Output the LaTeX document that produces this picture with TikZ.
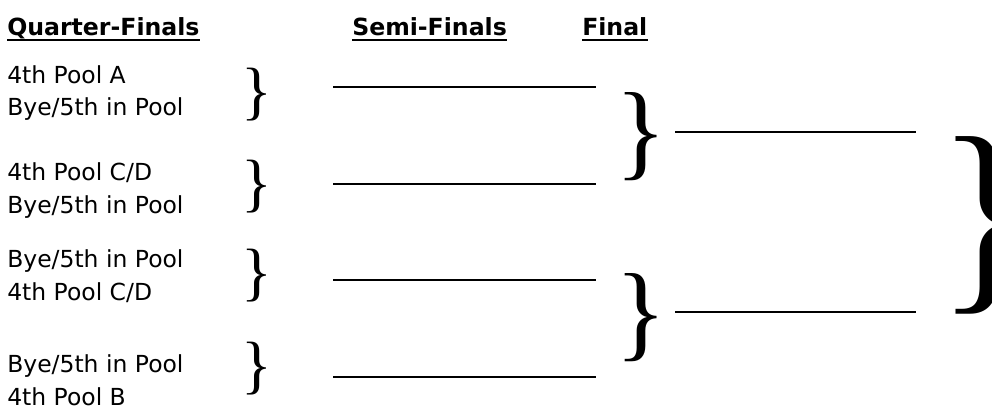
\documentclass[tikz,border=0pt]{standalone}
\usepackage{fontspec}
\setmainfont{DejaVu Sans}
\newfontfamily\bracefont{Liberation Serif}
\usetikzlibrary{positioning}

\begin{document}
\begin{tikzpicture}[x=0.75pt, y=-0.75pt]
    \tikzset{
        heading/.style = {inner sep=0pt, anchor=base west, font=\bfseries\fontsize{17.7pt}{21pt}\selectfont},
        team/.style = {inner sep=0pt, anchor=base west, font=\fontsize{17.6pt}{21pt}\selectfont},
        qbrace/.style = {inner sep=0pt, anchor=west, font=\bracefont\fontsize{48pt}{52pt}\selectfont},
        sbrace/.style = {inner sep=0pt, anchor=west, font=\bracefont\fontsize{80pt}{86pt}\selectfont},
        fbrace/.style = {inner sep=0pt, anchor=west, font=\bracefont\fontsize{161pt}{170pt}\selectfont},
        slot/.style = {inner sep=0pt, minimum height=0pt, anchor=west},
        uline/.style = {line width=1.5pt},
        semiline/.style = {line width=1.3pt},
        finalline/.style = {line width=1.7pt}
    }
    \useasboundingbox (0,0) rectangle (992,405);

    % headings
    \node[heading] (qf) at (7,35) {Quarter-Finals};
    \node[heading] (sf) at (352,35) {Semi-Finals};
    \node[heading] (fin) at (582,35) {Final};
    \draw[uline] ([yshift=-3.75pt]qf.base west) -- ([yshift=-3.75pt]qf.base east);
    \draw[uline] ([yshift=-3.75pt]sf.base west) -- ([yshift=-3.75pt]sf.base east);
    \draw[uline] ([yshift=-3.75pt]fin.base west) -- ([yshift=-3.75pt]fin.base east);

    % quarter-final pairs
    \node[team] (q1a) at (7,83) {4th Pool A};
    \node[team] (q1b) at (7,115) {Bye/5th in Pool};
    \node[team] (q2a) at (7,180) {4th Pool C/D};
    \node[team] (q2b) at (7,213) {Bye/5th in Pool};
    \node[team] (q3a) at (7,267) {Bye/5th in Pool};
    \node[team] (q3b) at (7,300) {4th Pool C/D};
    \node[team] (q4a) at (7,372) {Bye/5th in Pool};
    \node[team] (q4b) at (7,405) {4th Pool B};

    \node[qbrace] (b1) at (241,94.5) {\}};
    \node[qbrace] (b2) at (241,187) {\}};
    \node[qbrace] (b3) at (241,276) {\}};
    \node[qbrace] (b4) at (241,369) {\}};

    % semi-final slots
    \node[slot, minimum width=196.5pt] (s1) at (333,87) {};
    \node[slot, minimum width=196.5pt] (s2) at (333,184) {};
    \node[slot, minimum width=196.5pt] (s3) at (333,280) {};
    \node[slot, minimum width=196.5pt] (s4) at (333,377) {};
    \draw[semiline] (s1.west) -- (s1.east);
    \draw[semiline] (s2.west) -- (s2.east);
    \draw[semiline] (s3.west) -- (s3.east);
    \draw[semiline] (s4.west) -- (s4.east);

    \node[sbrace] (sb1) at (615,136.5) {\}};
    \node[sbrace] (sb2) at (615,317.5) {\}};

    % final slots
    \node[slot, minimum width=180pt] (f1) at (675,132) {};
    \node[slot, minimum width=180pt] (f2) at (675,312) {};
    \draw[finalline] (f1.west) -- (f1.east);
    \draw[finalline] (f2.west) -- (f2.east);

    \node[fbrace] (fb) at (936,225) {\}};
\end{tikzpicture}
\end{document}
